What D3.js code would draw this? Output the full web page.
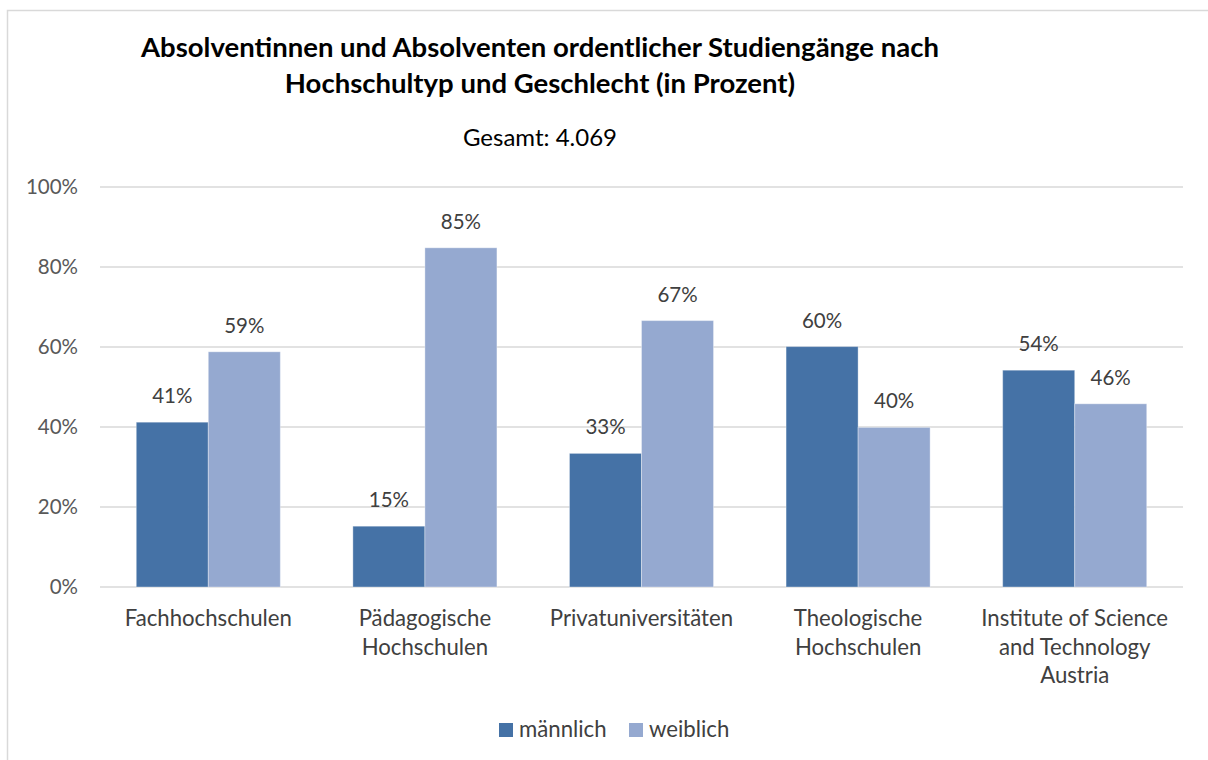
<!DOCTYPE html>
<html><head><meta charset="utf-8">
<script src="https://cdn.jsdelivr.net/npm/d3@7"></script>
<style>body{margin:0;background:#fff}svg{display:block}</style>
</head><body>
<svg id="c" width="1208" height="760"></svg>
<script>
const categories = [["Fachhochschulen"],["Pädagogische","Hochschulen"],["Privatuniversitäten"],["Theologische","Hochschulen"],["Institute of Science","and Technology","Austria"]];
const maleValues = [41.2, 15.2, 33.4, 60.1, 54.2];
const femaleValues = [58.8, 84.8, 66.6, 39.9, 45.8];
const seriesNames = ["männlich","weiblich"];
const yTicks = [0,20,40,60,80,100];
const titleLines = ["Absolventinnen und Absolventen ordentlicher Studiengänge nach","Hochschultyp und Geschlecht (in Prozent)"];
const subtitle = "Gesamt: 4.069";

(function(){
const colors = ["#4572a6","#95a9d0"];
const font = "Lato, Carlito, 'Open Sans', sans-serif";
const svg = d3.select("#c");
svg.append("rect").attr("x",7.5).attr("y",10.5).attr("width",1220).attr("height",780)
  .attr("fill","#fff").attr("stroke","#d9d9d9").attr("stroke-width",1.5);

const pl=100, pr=1183, pt=187, pb=587;
const x = d3.scaleBand().domain(d3.range(categories.length)).range([pl,pr]).paddingInner(0.335).paddingOuter(0.1675);
const x1 = d3.scaleBand().domain([0,1]).range([0,x.bandwidth()]);
const y = d3.scaleLinear().domain([0,100]).range([pb,pt]);

svg.append("g").selectAll("line").data(yTicks).join("line")
  .attr("x1",pl).attr("x2",pr).attr("y1",d=>y(d)).attr("y2",d=>y(d))
  .attr("stroke","#d9d9d9").attr("stroke-width",1.5);
svg.append("g").selectAll("text").data(yTicks).join("text")
  .attr("x",78).attr("y",d=>y(d)+7).attr("text-anchor","end")
  .attr("font-family",font).attr("font-size",20.5).attr("fill","#595959")
  .text(d=>d+"%");

const series=[maleValues,femaleValues];
series.forEach((vals,si)=>{
  const g=svg.append("g");
  g.selectAll("rect").data(vals).join("rect")
    .attr("x",(d,i)=>x(i)+x1(si)).attr("width",x1.bandwidth())
    .attr("y",d=>y(d)).attr("height",d=>y(0)-y(d))
    .attr("fill",colors[si]).attr("stroke","#ffffff").attr("stroke-opacity",0.35).attr("stroke-width",1);
  g.selectAll("text").data(vals).join("text")
    .attr("x",(d,i)=>x(i)+x1(si)+x1.bandwidth()/2).attr("y",d=>y(d)-19)
    .attr("text-anchor","middle").attr("font-family",font).attr("font-size",20.5).attr("fill","#404040")
    .text(d=>Math.round(d)+"%");
});

const cg=svg.append("g");
categories.forEach((lines,i)=>{
  const cx=x(i)+x.bandwidth()/2;
  const t=cg.append("text").attr("x",cx).attr("y",626)
   .attr("text-anchor","middle").attr("font-family",font).attr("font-size",22.2).attr("fill","#404040");
  lines.forEach((l,j)=>t.append("tspan").attr("x",cx).attr("dy",j?28.5:0).text(l));
});

const tt=svg.append("text").attr("text-anchor","middle").attr("font-family",font).attr("font-weight","bold")
  .attr("font-size",27.5).attr("fill","#000");
titleLines.forEach((l,j)=>tt.append("tspan").attr("x",540).attr("y",57+j*36).text(l));
svg.append("text").attr("x",540).attr("y",146).attr("text-anchor","middle").attr("font-family",font)
  .attr("font-size",24).attr("fill","#000").text(subtitle);

const lx=[499,629];
seriesNames.forEach((n,i)=>{
  svg.append("rect").attr("x",lx[i]).attr("y",723).attr("width",14).attr("height",14).attr("fill",colors[i]);
  svg.append("text").attr("x",lx[i]+20).attr("y",737).attr("font-family",font).attr("font-size",22.2)
   .attr("fill","#404040").text(n);
});
})();
</script>
</body></html>
